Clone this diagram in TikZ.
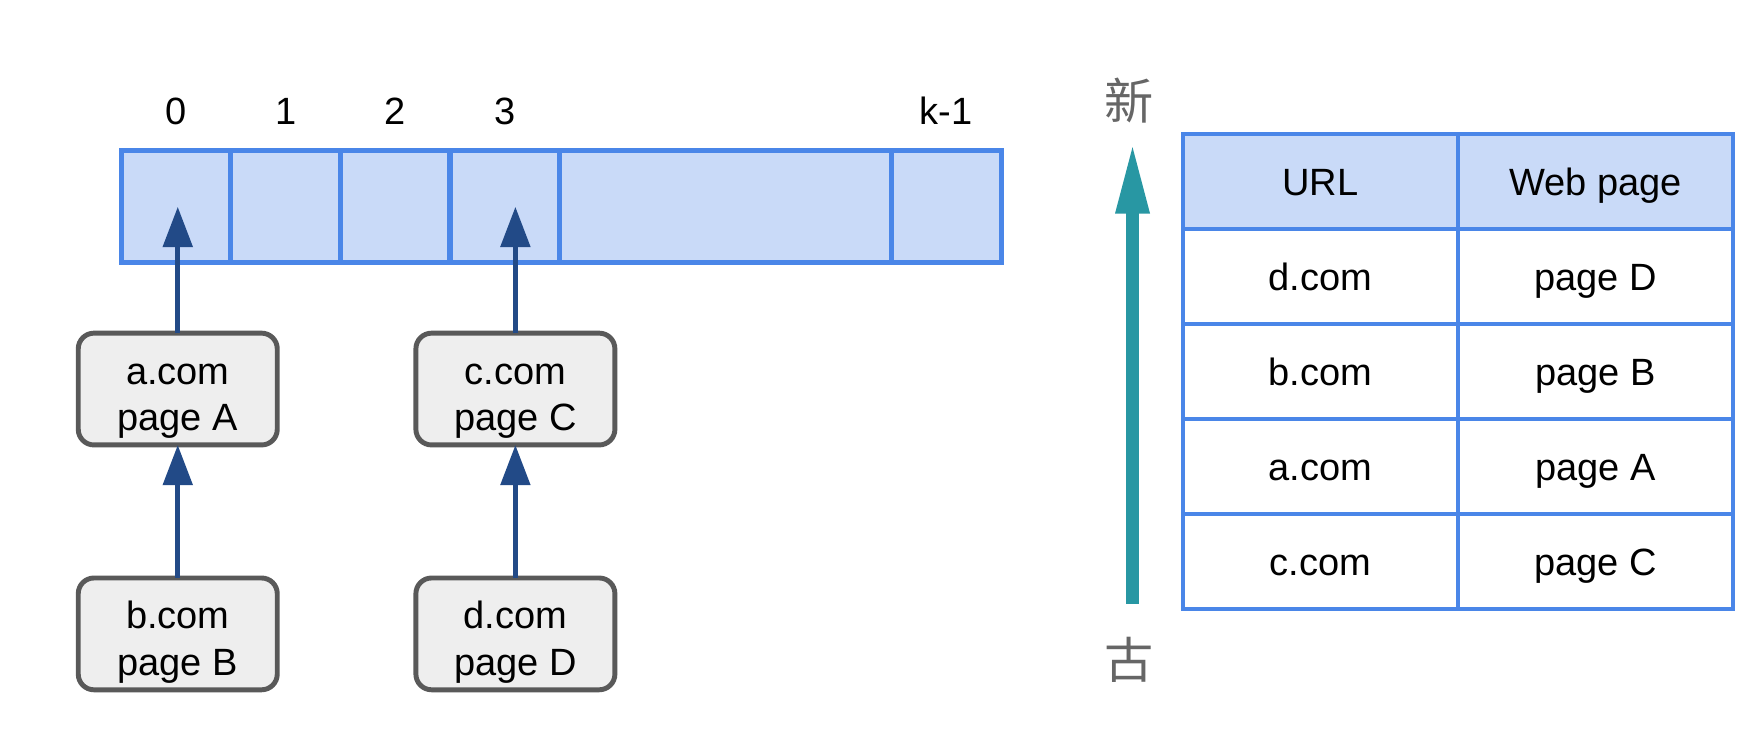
\documentclass[tikz,border=0pt]{standalone}
\usepackage{fontspec}
\setmainfont{Liberation Sans}
\newfontfamily\cjk{Noto Sans CJK SC}
\usetikzlibrary{positioning,arrows.meta}
\definecolor{cellfill}{HTML}{C9DAF8}
\definecolor{cellline}{HTML}{4A86E8}
\definecolor{boxfill}{HTML}{EEEEEE}
\definecolor{boxline}{HTML}{595959}
\definecolor{ptrblue}{HTML}{224A87}
\definecolor{timeteal}{HTML}{2897A3}
\definecolor{cjkgray}{HTML}{666666}

\begin{document}
\begin{tikzpicture}[x=0.5pt,y=-0.5pt,font=\fontsize{17}{21}\selectfont]
    % Define styles
    \tikzstyle{slot} = [rectangle, draw=cellline, fill=cellfill, line width=2.3pt, minimum width=49pt, minimum height=50pt, inner sep=0pt, outer sep=0pt]
    \tikzstyle{idx} = [inner sep=0pt]
    \tikzstyle{entrybox} = [rectangle, draw=boxline, fill=boxfill, line width=2.2pt, rounded corners=7pt, minimum width=89pt, minimum height=50pt, text height=37.5pt, text depth=0pt, align=center, outer sep=0pt]
    \tikzstyle{ptr} = [line width=2.3pt, draw=ptrblue, -{Triangle[length=18pt,width=13pt]}]
    \tikzstyle{timearr} = [line width=6.2pt, draw=timeteal, -{Triangle[length=33pt,width=13.5pt]}]
    \tikzstyle{thead} = [rectangle, draw=cellline, fill=cellfill, line width=1.9pt, minimum width=123pt, minimum height=42.5pt, text height=12pt, text depth=0pt, outer sep=0pt]
    \tikzstyle{tcell} = [thead, fill=white]
    \tikzstyle{cjklabel} = [inner sep=0pt, text=cjkgray, font=\cjk\fontsize{22}{22}\selectfont]

    \useasboundingbox (0,0) rectangle (1568,667);

    % Hash table slots
    \node[slot] (c0) at (157.5,185) {};
    \node[slot, right=0pt of c0] (c1) {};
    \node[slot, right=0pt of c1] (c2) {};
    \node[slot, right=0pt of c2] (c3) {};
    \node[slot, minimum width=148.5pt, right=0pt of c3] (cgap) {};
    \node[slot, right=0pt of cgap] (ck) {};
    \foreach \c/\t in {c0/0, c1/1, c2/2, c3/3, ck/k-1}
        \node[idx, above=11.5pt of \c] (l\c) {\t};

    % Entries
    \node[entrybox] (a) at (159,348) {a.com\\page A};
    \node[entrybox, below=59.5pt of a] (b) {b.com\\page B};
    \node[entrybox, right=62pt of a] (c) {c.com\\page C};
    \node[entrybox, below=59.5pt of c] (d) {d.com\\page D};

    % Arrows
    \draw[ptr] (a.north) -- (a.north |- c0.center);
    \draw[ptr] (c.north) -- (c.north |- c3.center);
    \draw[ptr] (b) -- (a);
    \draw[ptr] (d) -- (c);

    % Time axis
    \node[cjklabel] (xin) at (1010,90) {新};
    \node[cjklabel] (gu) at (1010,590) {古};
    \coordinate (tnew) at (1013,125);
    \coordinate (told) at (1013,540);
    \draw[timearr] (told) -- (tnew);

    % LRU table
    \node[thead] (url0) at (1181,162.5) {URL};
    \node[thead, right=0pt of url0] (pg0) {Web page};
    \foreach \u/\p [count=\i, remember=\i as \j (initially 0)] in {d.com/page D, b.com/page B, a.com/page A, c.com/page C}{
        \node[tcell, below=0pt of url\j] (url\i) {\u};
        \node[tcell, right=0pt of url\i] (pg\i) {\p};
    }
\end{tikzpicture}
\end{document}
